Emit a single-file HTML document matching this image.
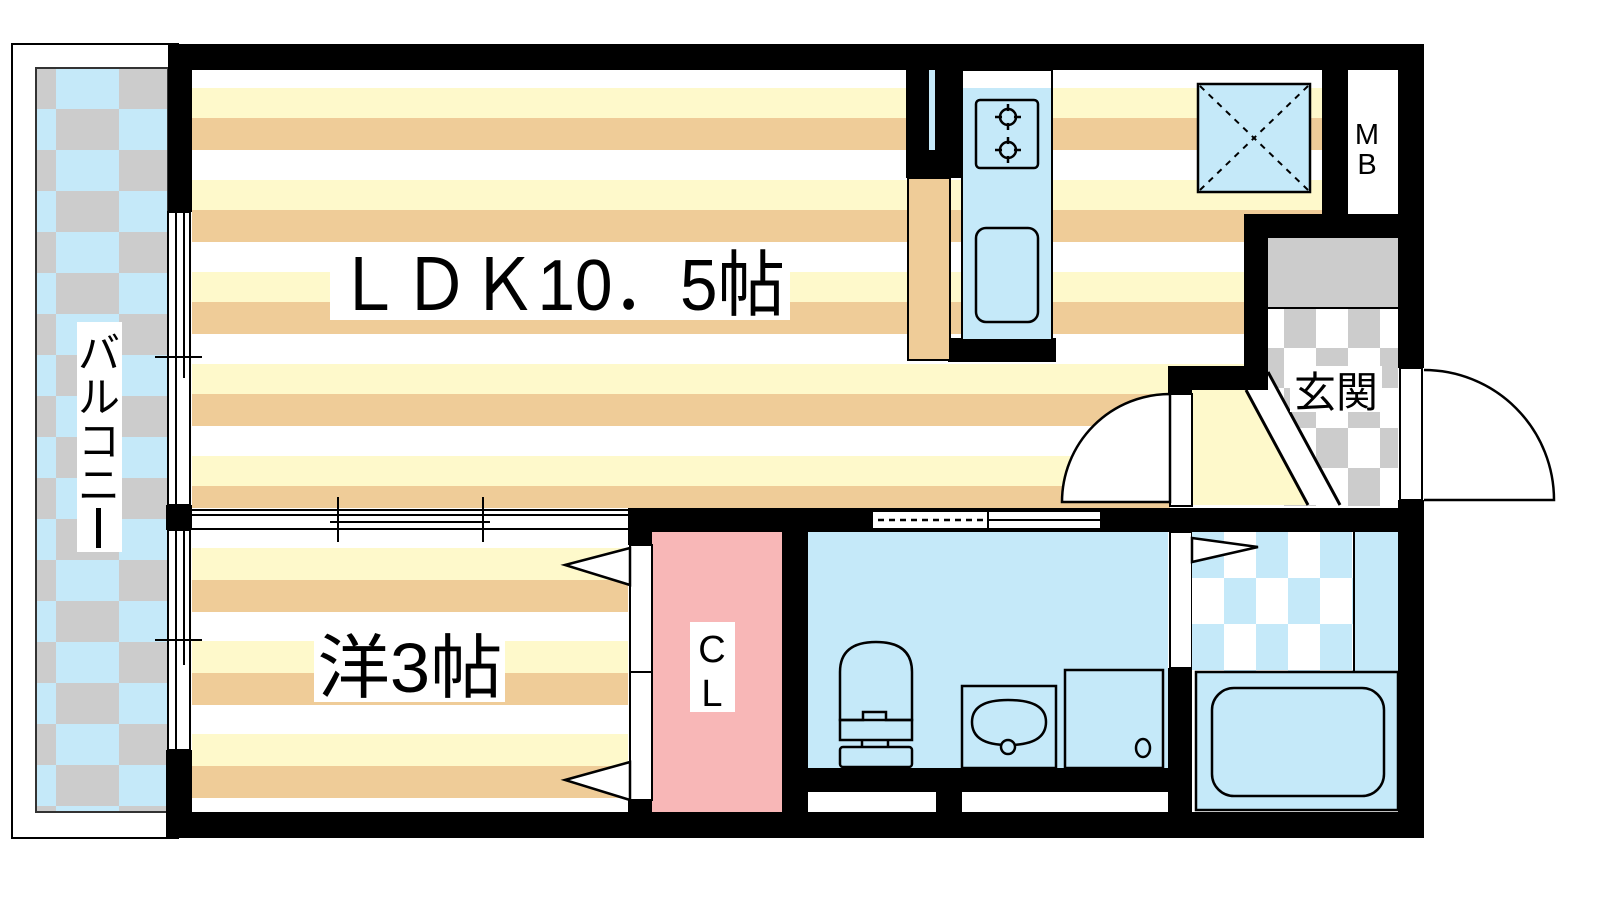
<!DOCTYPE html>
<html><head><meta charset="utf-8"><style>
html,body{margin:0;padding:0;background:#fff;width:1600px;height:900px;overflow:hidden}
text{font-family:"Liberation Sans","Noto Sans CJK JP",sans-serif}
</style></head><body>
<svg width="1600" height="900" viewBox="0 0 1600 900" xmlns="http://www.w3.org/2000/svg">
<defs>
<pattern id="st1" patternUnits="userSpaceOnUse" x="0" y="88" width="10" height="92">
<rect width="10" height="30" fill="#fef9cb"/><rect y="30" width="10" height="32" fill="#efcc98"/><rect y="62" width="10" height="30" fill="#fff"/>
</pattern>
<pattern id="st2" patternUnits="userSpaceOnUse" x="0" y="548" width="10" height="93">
<rect width="10" height="32" fill="#fef9cb"/><rect y="32" width="10" height="32" fill="#efcc98"/><rect y="64" width="10" height="29" fill="#fff"/>
</pattern>
<pattern id="bal" patternUnits="userSpaceOnUse" x="-7" y="68" width="126" height="82">
<rect width="126" height="82" fill="#c5e9f9"/>
<rect x="0" y="0" width="63" height="41" fill="#cccccc"/><rect x="63" y="41" width="63" height="41" fill="#cccccc"/>
</pattern>
<pattern id="gk" patternUnits="userSpaceOnUse" x="1268" y="308" width="64" height="80">
<rect width="64" height="80" fill="#fff"/><rect x="16" y="0" width="32" height="40" fill="#cccccc"/><rect x="48" y="40" width="16" height="40" fill="#cccccc"/><rect x="0" y="40" width="16" height="40" fill="#cccccc"/>
</pattern>
<pattern id="bt" patternUnits="userSpaceOnUse" x="1192" y="532" width="64" height="92">
<rect width="64" height="92" fill="#fff"/><rect x="0" y="0" width="32" height="46" fill="#c5e9f9"/><rect x="32" y="46" width="32" height="46" fill="#c5e9f9"/>
</pattern>
</defs>

<!-- balcony -->
<rect x="12" y="44" width="166" height="794" fill="#fff" stroke="#000" stroke-width="2"/>
<rect x="36" y="68" width="132" height="744" fill="url(#bal)" stroke="#333" stroke-width="2"/>
<rect x="77" y="322" width="45" height="230" fill="#fff"/>
<text x="99" y="368" font-size="42" text-anchor="middle">バ</text>
<text x="99" y="412" font-size="42" text-anchor="middle">ル</text>
<text x="99" y="456" font-size="42" text-anchor="middle">コ</text>
<text x="99" y="500" font-size="42" text-anchor="middle">ニ</text>
<rect x="96" y="508" width="5" height="40" fill="#000"/>

<!-- LDK floor -->
<rect x="192" y="70" width="1130" height="438" fill="url(#st1)"/>
<rect x="1244" y="214" width="154" height="294" fill="#fff"/>
<rect x="1170" y="366" width="230" height="142" fill="#fff"/>
<!-- western room -->
<rect x="192" y="530" width="436" height="282" fill="url(#st2)"/>

<!-- genkan -->
<rect x="1268" y="238" width="130" height="70" fill="#cccccc"/>
<rect x="1268" y="308" width="130" height="198" fill="url(#gk)"/>
<line x1="1268" y1="308" x2="1398" y2="308" stroke="#000" stroke-width="2"/>
<polygon points="1192,390 1246,390 1308,505 1192,505" fill="#fef9cb"/>
<polygon points="1246,390 1268,372 1340,505 1308,505" fill="#fff"/>
<line x1="1246" y1="390" x2="1308" y2="505" stroke="#000" stroke-width="3"/>
<line x1="1268" y1="372" x2="1340" y2="505" stroke="#000" stroke-width="3"/>
<rect x="1290" y="366" width="92" height="46" fill="#fff"/>
<text x="1336" y="407" font-size="42" text-anchor="middle">玄関</text>

<!-- walls -->
<g fill="#000">
<rect x="168" y="44" width="1256" height="26"/>
<rect x="168" y="44" width="24" height="168"/>
<rect x="166" y="505" width="26" height="25"/>
<rect x="166" y="750" width="26" height="88"/>
<rect x="168" y="812" width="1256" height="26"/>
<rect x="1398" y="44" width="26" height="324"/>
<rect x="1398" y="500" width="26" height="338"/>
<rect x="628" y="508" width="796" height="24"/>
<rect x="628" y="508" width="24" height="37"/>
<rect x="628" y="800" width="24" height="12"/>
<rect x="782" y="508" width="26" height="330"/>
<rect x="1168" y="508" width="24" height="24"/>
<rect x="1168" y="668" width="24" height="170"/>
<rect x="808" y="768" width="360" height="24"/>
<rect x="936" y="768" width="26" height="70"/>
<rect x="1322" y="44" width="26" height="170"/>
<rect x="1244" y="214" width="180" height="24"/>
<rect x="1244" y="214" width="24" height="176"/>
<rect x="1168" y="366" width="100" height="24"/>
<rect x="1168" y="366" width="24" height="28"/>
<rect x="906" y="70" width="56" height="108"/>
<rect x="948" y="338" width="108" height="24"/>
</g>
<rect x="929" y="70" width="6" height="80" fill="#c5e9f9"/>

<!-- left windows -->
<g stroke="#000" stroke-width="2" fill="#fff">
<rect x="168" y="212" width="22" height="293"/>
<rect x="168" y="530" width="22" height="220"/>
</g>
<g stroke="#000" stroke-width="2">
<line x1="176" y1="212" x2="176" y2="505"/><line x1="184" y1="212" x2="184" y2="378"/>
<line x1="176" y1="530" x2="176" y2="750"/><line x1="184" y1="530" x2="184" y2="665"/>
<line x1="155" y1="357" x2="202" y2="357"/><line x1="155" y1="640" x2="202" y2="640"/>
</g>

<!-- sliding partition -->
<rect x="192" y="509" width="436" height="21" fill="#fff"/>
<g stroke="#000" stroke-width="2">
<line x1="192" y1="510" x2="628" y2="510"/><line x1="192" y1="515" x2="628" y2="515"/>
<line x1="192" y1="529" x2="628" y2="529"/><line x1="330" y1="522" x2="490" y2="522"/>
<line x1="338" y1="497" x2="338" y2="542"/><line x1="483" y1="497" x2="483" y2="542"/>
</g>

<!-- window in bath wall -->
<rect x="873" y="512" width="227" height="16" fill="#fff"/>
<line x1="878" y1="520" x2="985" y2="520" stroke="#000" stroke-width="2.5" stroke-dasharray="6,5"/>
<line x1="988" y1="510" x2="988" y2="530" stroke="#000" stroke-width="2"/>
<line x1="988" y1="520" x2="1100" y2="520" stroke="#000" stroke-width="2"/>

<!-- kitchen -->
<rect x="908" y="178" width="42" height="182" fill="#efcc98" stroke="#000" stroke-width="2"/>
<rect x="962" y="70" width="90" height="270" fill="#fff" stroke="#000" stroke-width="2"/>
<rect x="963" y="88" width="88" height="251" fill="#c5e9f9"/>
<rect x="976" y="100" width="62" height="68" rx="4" fill="none" stroke="#000" stroke-width="2.5"/>
<g stroke="#000" stroke-width="2.5" fill="none">
<circle cx="1008" cy="117" r="8"/><circle cx="1008" cy="150" r="8"/>
<line x1="1008" y1="104" x2="1008" y2="130"/><line x1="995" y1="117" x2="1021" y2="117"/>
<line x1="1008" y1="137" x2="1008" y2="163"/><line x1="995" y1="150" x2="1021" y2="150"/>
</g>
<circle cx="1008" cy="117" r="6" fill="#c5e9f9"/><circle cx="1008" cy="150" r="6" fill="#c5e9f9"/>
<rect x="976" y="228" width="62" height="94" rx="10" fill="none" stroke="#000" stroke-width="2.5"/>

<!-- fridge -->
<rect x="1198" y="84" width="112" height="108" fill="#c5e9f9" stroke="#000" stroke-width="2.5"/>
<g stroke="#000" stroke-width="2" stroke-dasharray="6,6"><line x1="1200" y1="86" x2="1308" y2="190"/><line x1="1308" y1="86" x2="1200" y2="190"/></g>

<!-- MB -->
<rect x="1348" y="70" width="50" height="144" fill="#fff"/>
<text x="1367" y="144" font-size="29" text-anchor="middle">M</text>
<text x="1367" y="174" font-size="29" text-anchor="middle">B</text>

<!-- doors -->
<rect x="1170" y="394" width="22" height="112" fill="#fff" stroke="#000" stroke-width="2"/>
<path d="M1062,502 A108,108 0 0 1 1170,394 L1170,502 Z" fill="#fff" stroke="#000" stroke-width="2.5"/>
<rect x="1400" y="368" width="22" height="132" fill="#fff" stroke="#000" stroke-width="2"/>
<path d="M1424,370 A130,130 0 0 1 1554,500 L1424,500" fill="#fff" stroke="#000" stroke-width="2.5"/>

<!-- CL -->
<rect x="652" y="532" width="130" height="280" fill="#f8b7b7"/>
<rect x="630" y="545" width="22" height="255" fill="#fff" stroke="#000" stroke-width="2"/>
<line x1="630" y1="672" x2="652" y2="672" stroke="#000" stroke-width="2"/>
<polygon points="630,548 565,565 630,585" fill="#fff" stroke="#000" stroke-width="2.5"/>
<polygon points="630,762 565,780 630,800" fill="#fff" stroke="#000" stroke-width="2.5"/>
<rect x="690" y="622" width="45" height="90" fill="#fff"/>
<text x="712" y="662" font-size="38" text-anchor="middle">C</text>
<text x="712" y="706" font-size="38" text-anchor="middle">L</text>

<!-- washroom -->
<rect x="808" y="532" width="360" height="236" fill="#c5e9f9"/>
<rect x="808" y="792" width="128" height="20" fill="#fff"/>
<rect x="962" y="792" width="206" height="20" fill="#fff"/>
<g stroke="#000" stroke-width="2.5" fill="none">
<path d="M840,720 L840,672 Q840,642 876,642 Q912,642 912,672 L912,720 Z"/>
<path d="M840,720 L863,720 L863,712 L886,712 L886,720 L912,720 L912,740 L840,740 Z"/>
<line x1="862" y1="740" x2="862" y2="747"/><line x1="888" y1="740" x2="888" y2="747"/>
<rect x="840" y="747" width="72" height="20" rx="3"/>
<rect x="962" y="686" width="94" height="82"/>
<path d="M972,722 Q972,700 1008,700 Q1046,700 1046,722 Q1046,745 1008,745 Q972,745 972,722 Z"/>
<rect x="1065" y="670" width="98" height="98"/>
</g>
<circle cx="1008" cy="747" r="7" fill="#c5e9f9" stroke="#000" stroke-width="2.5"/>
<ellipse cx="1143" cy="748" rx="7" ry="9" fill="#c5e9f9" stroke="#000" stroke-width="2.5"/>

<!-- bath -->
<rect x="1170" y="532" width="22" height="136" fill="#fff" stroke="#000" stroke-width="2"/>
<rect x="1192" y="532" width="206" height="140" fill="url(#bt)"/>
<rect x="1354" y="532" width="44" height="140" fill="#c5e9f9"/>
<line x1="1354" y1="532" x2="1354" y2="672" stroke="#000" stroke-width="2"/>
<polygon points="1192,538 1258,547 1192,562" fill="#fff" stroke="#000" stroke-width="2.5"/>
<rect x="1196" y="672" width="202" height="138" fill="#c5e9f9" stroke="#000" stroke-width="2.5"/>
<rect x="1212" y="688" width="172" height="108" rx="22" fill="none" stroke="#000" stroke-width="2.5"/>

<!-- labels -->
<rect x="330" y="245" width="460" height="75" fill="#fff"/>
<text x="560" y="310" font-size="72" text-anchor="middle" textLength="450" lengthAdjust="spacingAndGlyphs">ＬＤＫ10．5帖</text>
<rect x="314" y="630" width="191" height="72" fill="#fff"/>
<text x="410" y="692" font-size="70" text-anchor="middle" textLength="185" lengthAdjust="spacingAndGlyphs">洋3帖</text>
</svg>
</body></html>
